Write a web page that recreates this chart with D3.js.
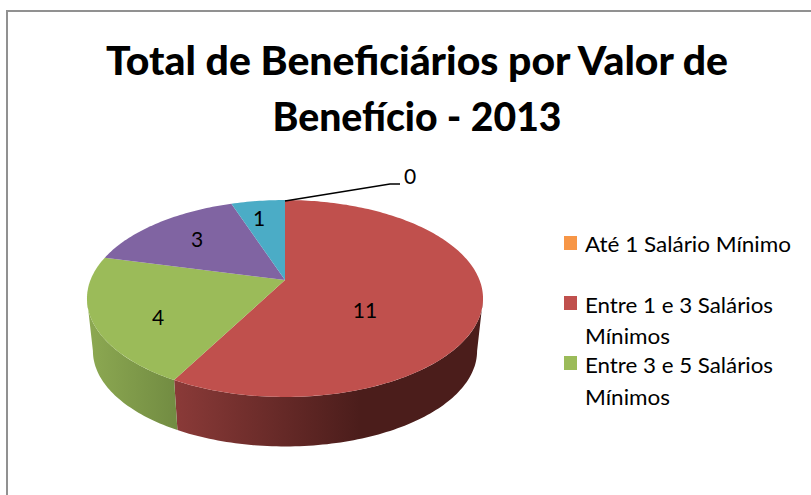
<!DOCTYPE html>
<html>
<head>
<meta charset="utf-8">
<script src="https://cdn.jsdelivr.net/npm/d3@7"></script>
<style>
  html, body { margin: 0; padding: 0; background: #fff; }
  svg { display: block; }
  text { font-family: Lato, "Open Sans", sans-serif; fill: #000; }
</style>
</head>
<body>
<svg id="chart"></svg>
<script>
// values
const values = [0, 11, 4, 3, 1];
const sliceColors = ["#f79646", "#c0504d", "#9bbb59", "#8064a2", "#4bacc6"];
const legendLabels = [
  ["Até 1 Salário Mínimo"],
  ["Entre 1 e 3 Salários", "Mínimos"],
  ["Entre 3 e 5 Salários", "Mínimos"]
];
const titleLines = ["Total de Beneficiários por Valor de", "Benefício - 2013"];

const width = 811;
const height = 495;

const svg = d3.select("#chart").attr("width", width).attr("height", height);

// frame
svg.append("path")
  .attr("d", `M7,${height}V11H${width}`)
  .attr("fill", "none")
  .attr("stroke", "#919191")
  .attr("stroke-width", 2);

// title
svg.selectAll(".title")
  .data(titleLines)
  .join("text")
  .attr("class", "title")
  .attr("x", 417)
  .attr("y", (d, i) => 75 + i * 56)
  .attr("text-anchor", "middle")
  .attr("font-weight", 900)
  .attr("font-size", 40)
  .attr("textLength", (d, i) => [622, 289][i])
  .attr("lengthAdjust", "spacingAndGlyphs")
  .text(d => d);

// Pie is a circle seen in perspective, so the apex sits above the middle of the ellipse
const cx = 285;
const apexY = 280;
const a = 194.5;
const b = 95;
const k = 0.1878;
const bottomScale = 0.97;
const bottomApexY = 333;

function project(angle, r, scale, originY) {
  const u = r * Math.sin(angle);
  const v = -r * Math.cos(angle);
  const w = 1 - k * v;
  return [cx + scale * a * u / w, originY + scale * b * v / w];
}
const topPoint = (angle, r = 1) => project(angle, r, 1, apexY);
const bottomPoint = angle => project(angle, 1, bottomScale, bottomApexY);

const arcs = d3.pie().sort(null).value(d => d)(values);
const line = d3.line();

function arcAngles(start, end) {
  const n = Math.max(2, Math.ceil((end - start) / 0.02));
  return d3.range(n + 1).map(i => start + (end - start) * i / n);
}

// side wall runs between the two points where the ellipse is widest
const defs = svg.append("defs");
const sideStart = Math.PI / 2 + Math.asin(k);
const sideEnd = Math.PI * 1.5 - Math.asin(k);
const sideStops = {
  1: { x1: 176, x2: 360, from: "#8a3a38", to: "#4b1d1b" },
  2: { x1: 93, x2: 176, from: "#8ba751", to: "#728c42" }
};

arcs.forEach((d, i) => {
  const start = Math.max(d.startAngle, sideStart);
  const end = Math.min(d.endAngle, sideEnd);
  if (end <= start) return;
  const stops = sideStops[i];
  const grad = defs.append("linearGradient")
    .attr("id", `side${i}`)
    .attr("gradientUnits", "userSpaceOnUse")
    .attr("x1", stops.x1).attr("x2", stops.x2)
    .attr("y1", 0).attr("y2", 0);
  grad.append("stop").attr("offset", 0).attr("stop-color", stops.from);
  grad.append("stop").attr("offset", 1).attr("stop-color", stops.to);

  const angles = arcAngles(start, end);
  const pts = angles.map(t => topPoint(t)).concat(angles.slice().reverse().map(bottomPoint));
  svg.append("path")
    .attr("d", line(pts) + "Z")
    .attr("fill", `url(#side${i})`);
});

// top faces
svg.selectAll(".slice")
  .data(arcs.filter(d => d.value > 0))
  .join("path")
  .attr("class", "slice")
  .attr("d", d => line([[cx, apexY]].concat(arcAngles(d.startAngle, d.endAngle).map(t => topPoint(t)))) + "Z")
  .attr("fill", d => sliceColors[d.index]);

// data labels, placed by hand like the original
const labelPos = [[410, 184], [365, 318], [158, 325], [197, 247], [259, 226]];
svg.selectAll(".value")
  .data(values)
  .join("text")
  .attr("class", "value")
  .attr("x", (d, i) => labelPos[i][0])
  .attr("y", (d, i) => labelPos[i][1])
  .attr("text-anchor", "middle")
  .attr("font-size", 21)
  .text(d => d);

// leader line for the zero slice
const leaderStart = topPoint(arcs[0].startAngle);
svg.append("path")
  .attr("d", line([[leaderStart[0], leaderStart[1] + 1], [390, 184], [400, 184]]))
  .attr("fill", "none")
  .attr("stroke", "#000")
  .attr("stroke-width", 1.5);

// legend
const legendX = 585;
const swatchY = [236, 296, 356];
const legendBaselines = [[252], [313, 344], [373, 405]];
const legendWidths = [[206], [188, 85], [188, 85]];

legendLabels.forEach((lines, i) => {
  svg.append("rect")
    .attr("x", 564).attr("y", swatchY[i])
    .attr("width", 13).attr("height", 14)
    .attr("fill", sliceColors[i]);
  lines.forEach((t, j) => {
    svg.append("text")
      .attr("x", legendX)
      .attr("y", legendBaselines[i][j])
      .attr("font-size", 21)
      .attr("textLength", legendWidths[i][j])
      .attr("lengthAdjust", "spacingAndGlyphs")
      .text(t);
  });
});
</script>
</body>
</html>
